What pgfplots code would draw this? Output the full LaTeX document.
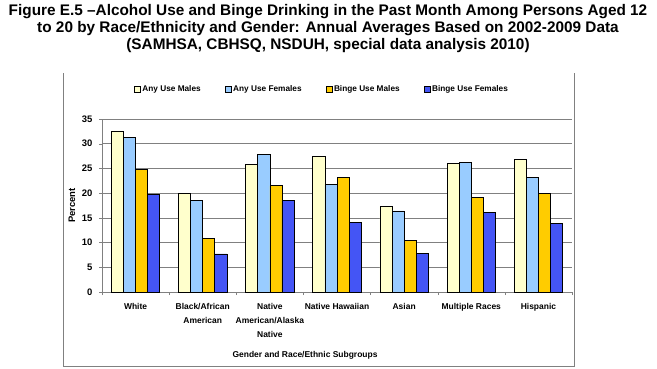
\documentclass[border=0pt]{standalone}
\usepackage{pgfplots}
\pgfplotsset{compat=1.18}
\usepackage{fontspec}
\setmainfont{Liberation Sans}
\definecolor{cAM}{HTML}{FFFFCC}
\definecolor{cAF}{HTML}{99CCFF}
\definecolor{cBM}{HTML}{FFCC00}
\definecolor{cBF}{HTML}{4455F5}
\definecolor{frm}{HTML}{808080}
\pgfplotstableread{
x AM AF BM BF
0 32.6 31.2 24.8 19.8
1 19.9 18.5 10.8 7.7
2 25.8 27.8 21.5 18.5
3 27.4 21.8 23.2 14.0
4 17.4 16.4 10.5 7.8
5 26.1 26.3 19.1 16.1
6 26.9 23.2 19.9 13.9
}\datatable
\begin{document}
\begin{tikzpicture}[x=1bp,y=1bp]
\path[use as bounding box] (0,0) rectangle (657,-368);
\node[font=\fontsize{15.4}{17}\selectfont\bfseries, align=center, anchor=north] at (328,-1)
  {Figure E.5 --Alcohol Use and Binge Drinking in the Past Month Among Persons Aged 12\\
   to 20 by Race/Ethnicity and Gender: Annual Averages Based on 2002-2009 Data\\
   (SAMHSA, CBHSQ, NSDUH, special data analysis 2010)};
\draw[frm, line width=0.8bp] (63.5,-73) -- (63.5,-366) -- (574.5,-366) -- (574.5,-73);
\begin{axis}[
  at={(102bp,-292bp)}, anchor=south west,
  scale only axis, width=470bp, height=173bp,
  ybar=0pt, bar width=0.18,
  xmin=-0.5, xmax=6.5, ymin=0, ymax=35,
  ytick={0,5,...,35},
  /pgf/number format/assume math mode=true,
  xtick={0,...,6},
  xticklabels={White, Black/African\\American, Native\\American/Alaska\\Native, Native Hawaiian, Asian, Multiple Races, Hispanic},
  xticklabel style={align=center, font=\fontsize{8.5}{14}\selectfont\bfseries, yshift=-5bp},
  yticklabel style={font=\fontsize{9.5}{10}\selectfont\bfseries, xshift=-3bp},
  major x tick style={draw=none},
  minor xtick={-0.5,0.5,...,6.5},
  minor tick length=3bp,
  tick align=outside,
  major tick length=3bp,
  axis x line*=bottom, axis y line*=left,
  axis line style={frm, -},
  every tick/.style={frm},
  ymajorgrids, grid style={frm, line width=0.6bp},
  ylabel={Percent},
  ylabel style={font=\fontsize{9.5}{10}\selectfont\bfseries, at={(axis description cs:-0.064,0.5)}, anchor=center},
  xlabel={Gender and Race/Ethnic Subgroups},
  xlabel style={font=\fontsize{8.5}{10}\selectfont\bfseries, at={(axis description cs:0.432,-0.364)}, anchor=center},
  legend columns=4,
  legend style={draw=none, at={(axis description cs:0.468,1.173)}, anchor=center,
    font=\fontsize{8.3}{10}\selectfont\bfseries,
    /tikz/every even column/.append style={column sep=22bp}},
  legend image code/.code={\draw[#1, draw=black, line width=0.4bp] (0bp,-3bp) rectangle (6bp,3bp);},
  clip=false,
]
\addplot[fill=cAM, draw=black, line width=0.7bp] table[x=x,y=AM]{\datatable};
\addplot[fill=cAF, draw=black, line width=0.7bp] table[x=x,y=AF]{\datatable};
\addplot[fill=cBM, draw=black, line width=0.7bp] table[x=x,y=BM]{\datatable};
\addplot[fill=cBF, draw=black, line width=0.7bp] table[x=x,y=BF]{\datatable};
\legend{Any Use Males, Any Use Females, Binge Use Males, Binge Use Females}
\end{axis}
\end{tikzpicture}
\end{document}
